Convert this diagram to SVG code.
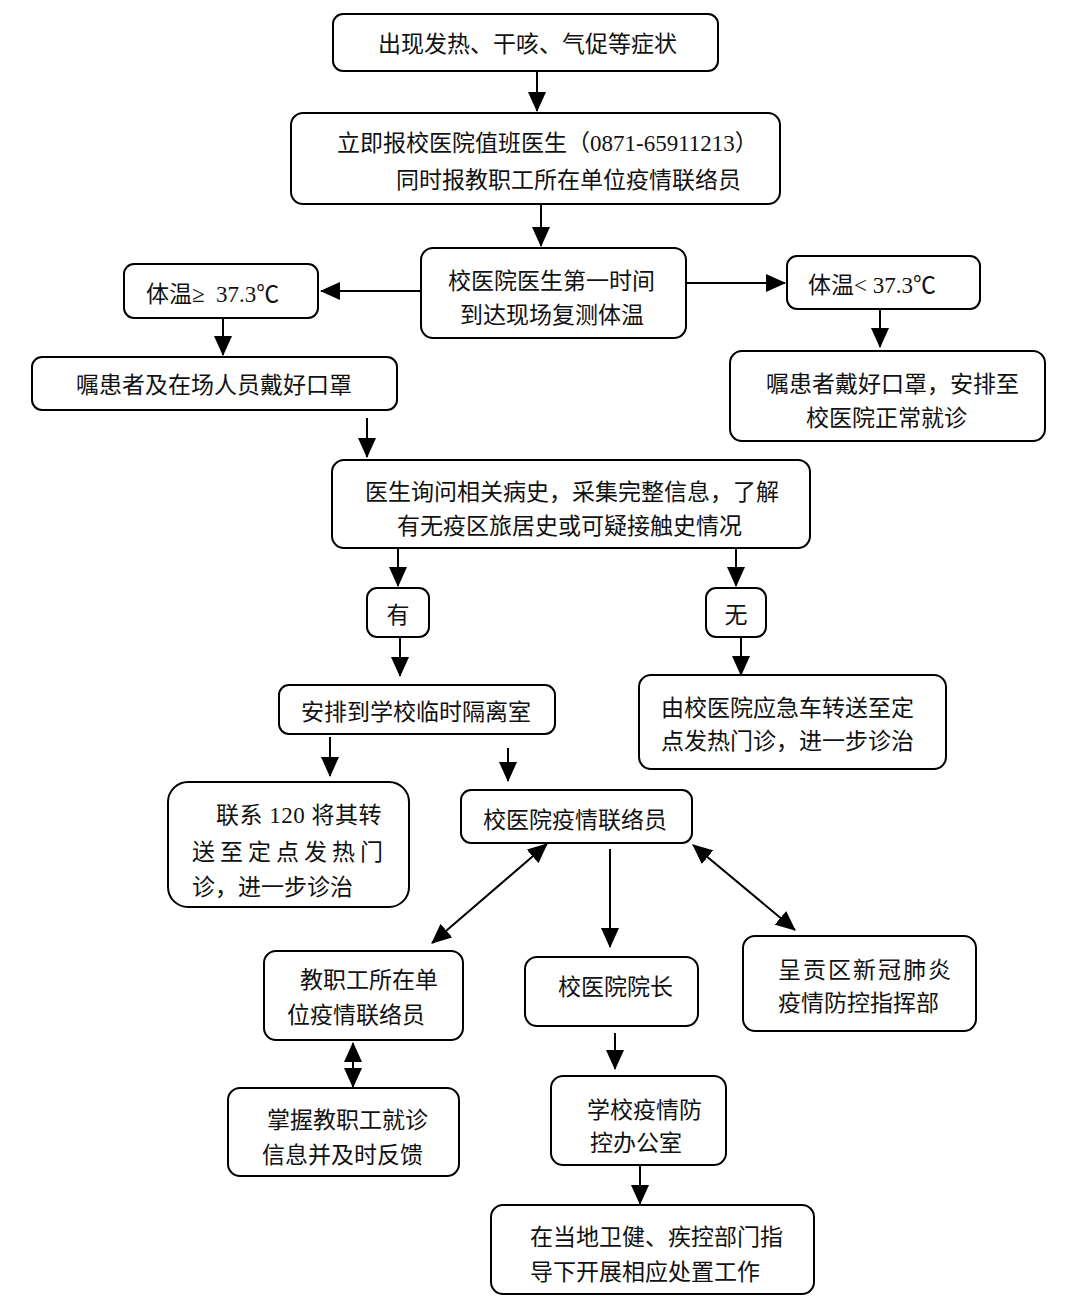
<svg xmlns="http://www.w3.org/2000/svg" width="1076" height="1316" viewBox="0 0 1076 1316">
<defs>
<marker id="ah" markerUnits="userSpaceOnUse" markerWidth="20" markerHeight="18" viewBox="0 0 20 18" refX="19" refY="9" orient="auto-start-reverse">
<path d="M0,0 L20,9 L0,18 Z" fill="#000"/>
</marker>
<style>
.b{fill:#fff;stroke:#000;stroke-width:2}
.t{font-family:"Liberation Serif","Noto Sans CJK SC",serif;font-size:23px;fill:#111}
.c{stroke:#000;stroke-width:2;fill:none}
</style>
</defs>
<rect width="1076" height="1316" fill="#fff"/>
<g id="connectors">
<line class="c" x1="537" y1="71" x2="537" y2="111" marker-end="url(#ah)"/>
<line class="c" x1="541" y1="204" x2="541" y2="246" marker-end="url(#ah)"/>
<line class="c" x1="421" y1="291" x2="321" y2="291" marker-end="url(#ah)"/>
<line class="c" x1="686" y1="283" x2="785" y2="283" marker-end="url(#ah)"/>
<line class="c" x1="223" y1="318" x2="223" y2="355" marker-end="url(#ah)"/>
<line class="c" x1="880" y1="309" x2="880" y2="347" marker-end="url(#ah)"/>
<line class="c" x1="367" y1="418" x2="367" y2="457" marker-end="url(#ah)"/>
<line class="c" x1="398" y1="548" x2="398" y2="586" marker-end="url(#ah)"/>
<line class="c" x1="736" y1="548" x2="736" y2="586" marker-end="url(#ah)"/>
<line class="c" x1="400" y1="637" x2="400" y2="676" marker-end="url(#ah)"/>
<line class="c" x1="741" y1="637" x2="741" y2="675" marker-end="url(#ah)"/>
<line class="c" x1="330" y1="737" x2="330" y2="776" marker-end="url(#ah)"/>
<line class="c" x1="508" y1="748" x2="508" y2="781" marker-end="url(#ah)"/>
<line class="c" x1="547" y1="844" x2="432" y2="943" marker-start="url(#ah)" marker-end="url(#ah)"/>
<line class="c" x1="610" y1="849" x2="610" y2="947" marker-end="url(#ah)"/>
<line class="c" x1="693" y1="845" x2="795" y2="930" marker-start="url(#ah)" marker-end="url(#ah)"/>
<line class="c" x1="353" y1="1043" x2="353" y2="1087" marker-start="url(#ah)" marker-end="url(#ah)"/>
<line class="c" x1="615" y1="1033" x2="615" y2="1069" marker-end="url(#ah)"/>
<line class="c" x1="640" y1="1165" x2="640" y2="1204" marker-end="url(#ah)"/>
</g>
<g id="n1"><rect class="b" x="333" y="14" width="385" height="57" rx="10"/><text class="t" x="378" y="52">出现发热、干咳、气促等症状</text></g>
<g id="n2"><rect class="b" x="291" y="113" width="489" height="91" rx="12"/><text class="t" x="337" y="151">立即报校医院值班医生（0871-65911213）</text><text class="t" x="396" y="188">同时报教职工所在单位疫情联络员</text></g>
<g id="n3"><rect class="b" x="421" y="248" width="265" height="90" rx="12"/><text class="t" x="448" y="289">校医院医生第一时间</text><text class="t" x="460" y="323">到达现场复测体温</text></g>
<g id="n4"><rect class="b" x="124" y="264" width="194" height="54" rx="10"/><text class="t" x="146" y="302" xml:space="preserve">体温≥  37.3℃</text></g>
<g id="n5"><rect class="b" x="787" y="256" width="193" height="53" rx="10"/><text class="t" x="808" y="293">体温&lt; 37.3℃</text></g>
<g id="n6"><rect class="b" x="32" y="357" width="365" height="53" rx="10"/><text class="t" x="76" y="393">嘱患者及在场人员戴好口罩</text></g>
<g id="n7"><rect class="b" x="730" y="351" width="315" height="90" rx="12"/><text class="t" x="766" y="392">嘱患者戴好口罩，安排至</text><text class="t" x="806" y="426">校医院正常就诊</text></g>
<g id="n8"><rect class="b" x="332" y="460" width="478" height="88" rx="12"/><text class="t" x="365" y="500">医生询问相关病史，采集完整信息，了解</text><text class="t" x="397" y="534">有无疫区旅居史或可疑接触史情况</text></g>
<g id="n9"><rect class="b" x="367" y="588" width="62" height="49" rx="10"/><text class="t" x="398" y="623" text-anchor="middle">有</text></g>
<g id="n10"><rect class="b" x="706" y="588" width="60" height="49" rx="10"/><text class="t" x="736" y="623" text-anchor="middle">无</text></g>
<g id="n11"><rect class="b" x="279" y="685" width="276" height="49" rx="10"/><text class="t" x="301" y="720">安排到学校临时隔离室</text></g>
<g id="n12"><rect class="b" x="639" y="675" width="307" height="94" rx="12"/><text class="t" x="661" y="716">由校医院应急车转送至定</text><text class="t" x="661" y="749">点发热门诊，进一步诊治</text></g>
<g id="n13"><rect class="b" x="168" y="782" width="241" height="125" rx="20"/><text class="t" x="216" y="823" letter-spacing="0.5">联系 120 将其转</text><text class="t" x="192" y="860" letter-spacing="5">送至定点发热门</text><text class="t" x="192" y="895">诊，进一步诊治</text></g>
<g id="n14"><rect class="b" x="461" y="790" width="231" height="53" rx="10"/><text class="t" x="483" y="828">校医院疫情联络员</text></g>
<g id="n15"><rect class="b" x="264" y="951" width="199" height="89" rx="12"/><text class="t" x="300" y="988">教职工所在单</text><text class="t" x="287" y="1023">位疫情联络员</text></g>
<g id="n16"><rect class="b" x="525" y="957" width="173" height="69" rx="12"/><text class="t" x="558" y="995">校医院院长</text></g>
<g id="n17"><rect class="b" x="743" y="936" width="233" height="95" rx="12"/><text class="t" x="778" y="978" letter-spacing="2">呈贡区新冠肺炎</text><text class="t" x="778" y="1011">疫情防控指挥部</text></g>
<g id="n18"><rect class="b" x="228" y="1088" width="231" height="88" rx="12"/><text class="t" x="267" y="1128">掌握教职工就诊</text><text class="t" x="262" y="1163">信息并及时反馈</text></g>
<g id="n19"><rect class="b" x="551" y="1076" width="175" height="89" rx="12"/><text class="t" x="587" y="1118">学校疫情防</text><text class="t" x="590" y="1151">控办公室</text></g>
<g id="n20"><rect class="b" x="491" y="1205" width="323" height="89" rx="12"/><text class="t" x="530" y="1245">在当地卫健、疾控部门指</text><text class="t" x="530" y="1280">导下开展相应处置工作</text></g>
</svg>
